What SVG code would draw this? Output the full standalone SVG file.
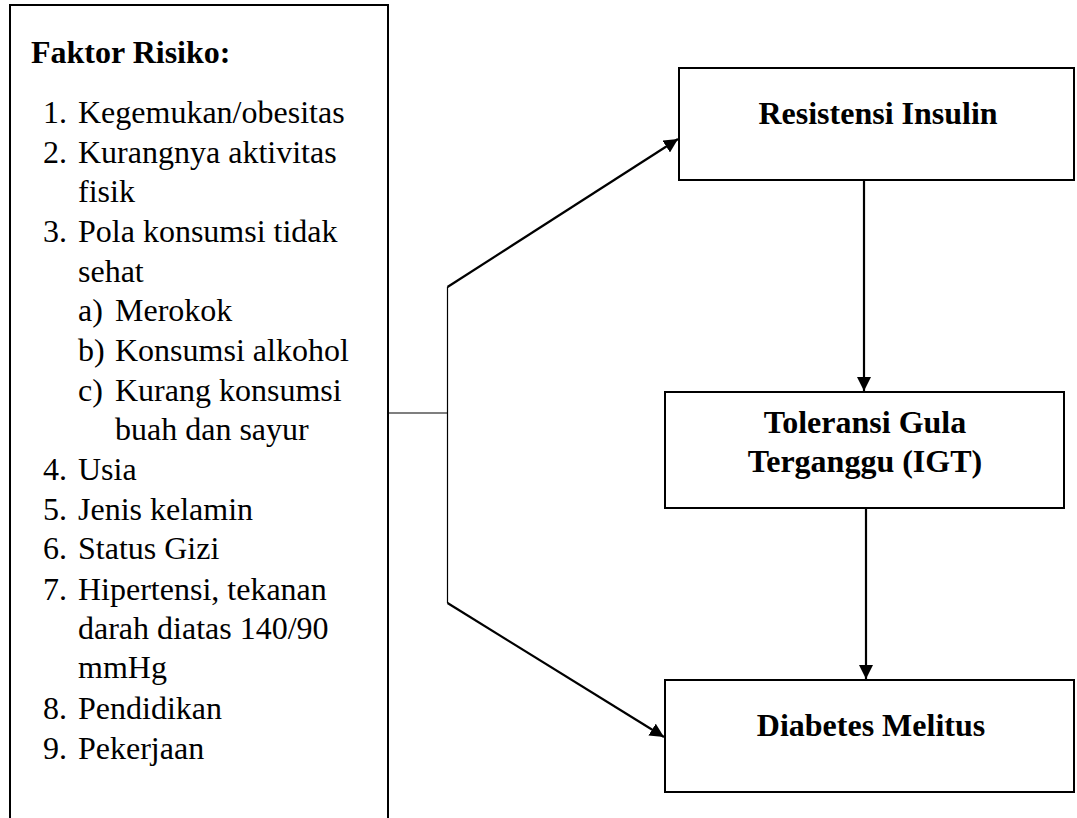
<svg xmlns="http://www.w3.org/2000/svg" width="1077" height="818" viewBox="0 0 1077 818">
<style>
.t{font-family:"Liberation Serif","Times New Roman",serif;font-size:32px;fill:#000}
.b{font-weight:bold}
.c{text-anchor:middle}
.box{fill:#fff;stroke:#000;stroke-width:2}
.ln{fill:none;stroke:#000;stroke-width:2.2}
.thin{fill:none;stroke:#000;stroke-width:1.2}
</style>
<defs>
<marker id="ah" markerUnits="userSpaceOnUse" markerWidth="14" markerHeight="14" refX="14" refY="7" orient="auto">
<path d="M0,0 L14,7 L0,14 z" fill="#000"/>
</marker>
</defs>
<rect width="1077" height="818" fill="#fff"/>
<g id="risk-factors">
<path class="box" d="M10,818 V5 H388 V818"/>
<text class="t b" x="31" y="62.5">Faktor Risiko:</text>
<text class="t" x="43" y="123">1.</text><text class="t" x="78" y="123">Kegemukan/obesitas</text>
<text class="t" x="43" y="163">2.</text><text class="t" x="78" y="163">Kurangnya aktivitas</text>
<text class="t" x="78" y="202">fisik</text>
<text class="t" x="43" y="242">3.</text><text class="t" x="78" y="242">Pola konsumsi tidak</text>
<text class="t" x="78" y="282">sehat</text>
<text class="t" x="78" y="321">a)</text><text class="t" x="115" y="321">Merokok</text>
<text class="t" x="78" y="361">b)</text><text class="t" x="115" y="361">Konsumsi alkohol</text>
<text class="t" x="78" y="401">c)</text><text class="t" x="115" y="401">Kurang konsumsi</text>
<text class="t" x="115" y="440">buah dan sayur</text>
<text class="t" x="43" y="480">4.</text><text class="t" x="78" y="480">Usia</text>
<text class="t" x="43" y="520">5.</text><text class="t" x="78" y="520">Jenis kelamin</text>
<text class="t" x="43" y="559">6.</text><text class="t" x="78" y="559">Status Gizi</text>
<text class="t" x="43" y="600">7.</text><text class="t" x="78" y="600">Hipertensi, tekanan</text>
<text class="t" x="78" y="639">darah diatas 140/90</text>
<text class="t" x="78" y="678">mmHg</text>
<text class="t" x="43" y="719">8.</text><text class="t" x="78" y="719">Pendidikan</text>
<text class="t" x="43" y="759">9.</text><text class="t" x="78" y="759">Pekerjaan</text>
</g>
<g id="resistensi">
<rect class="box" x="679" y="68" width="395" height="112"/>
<text class="t b c" x="878" y="124">Resistensi Insulin</text>
</g>
<g id="toleransi">
<rect class="box" x="665" y="392" width="399" height="116"/>
<text class="t b c" x="865" y="433">Toleransi Gula</text>
<text class="t b c" x="865" y="472">Terganggu (IGT)</text>
</g>
<g id="diabetes">
<rect class="box" x="665" y="680" width="409" height="112"/>
<text class="t b c" x="871" y="736">Diabetes Melitus</text>
</g>
<g id="connectors">
<path class="thin" d="M388,413 H447.5 M447.5,287 V603"/>
<path class="ln" d="M447.5,287 L678,139" marker-end="url(#ah)"/>
<path class="ln" d="M447.5,603 L664,737" marker-end="url(#ah)"/>
<path class="ln" d="M864,181 V391" marker-end="url(#ah)"/>
<path class="ln" d="M866,509 V679" marker-end="url(#ah)"/>
</g>
</svg>
